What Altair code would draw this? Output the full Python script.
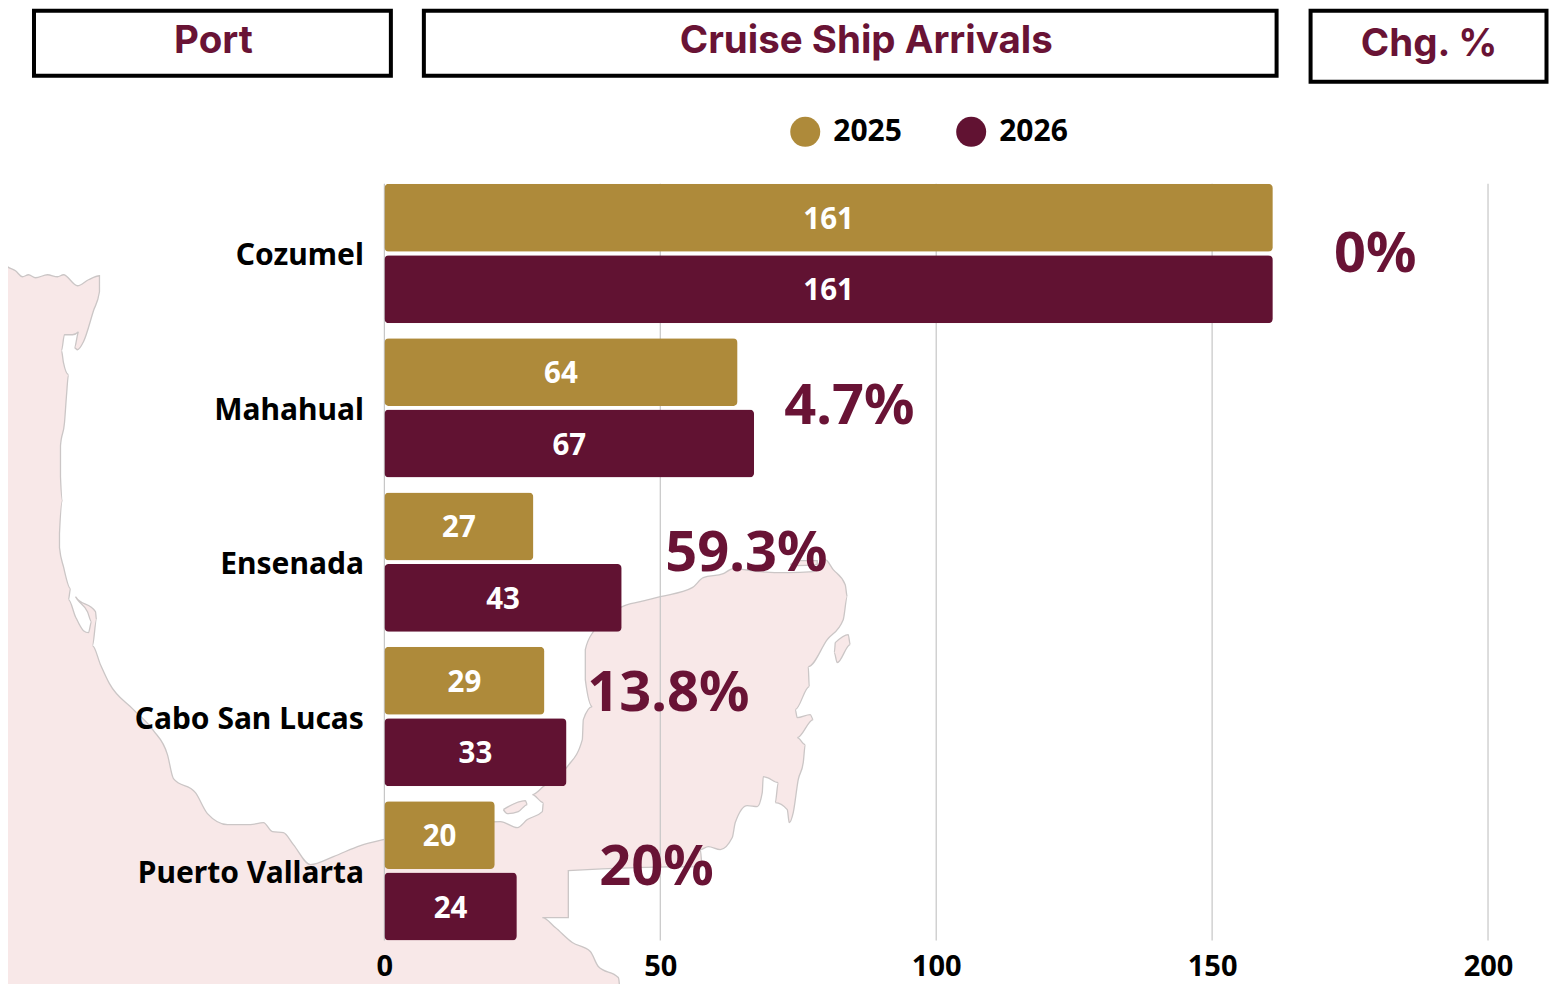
import altair as alt
import pandas as pd

ports = ["Cozumel", "Mahahual", "Ensenada", "Cabo San Lucas", "Puerto Vallarta"]
arrivals_2025 = [161, 64, 27, 29, 20]
arrivals_2026 = [161, 67, 43, 33, 24]
years = ["2025", "2026"]
x_ticks = [0, 50, 100, 150, 200]

pct_labels = ["0%", "4.7%", "59.3%", "13.8%", "20%"]
pct_left = [1334, 784, 665, 587, 599]
pct_mid = [255, 407, 554, 694, 868]

header_labels = ["Port", "Cruise Ship Arrivals", "Chg. %"]
header_x0 = [33.5, 423.5, 1310.5]
header_x1 = [390.5, 1276.5, 1546.5]
header_y0 = [11, 11, 11]
header_y1 = [76, 76, 82]
header_cx = [213, 866, 1429]
header_cy = [41, 41, 44]

# decorative map outline
coast_x = [-5, 0, 7, 15, 22, 28, 35, 47, 57, 63, 77, 88, 99, 99, 93, 83, 77, 74, 78, 72, 64, 61, 63, 68, 66, 64, 60, 60, 62, 59, 59, 63, 70, 68, 75, 83, 88, 91, 87, 77, 75, 95, 96, 92, 100, 109, 133, 153, 167, 173, 195, 207, 227, 250, 263, 272, 283, 293, 310, 333, 360, 383, 440, 500, 517, 527, 542, 543, 532, 543, 567, 582, 583, 592, 585, 585, 593, 622, 640, 660, 692, 703, 723, 733, 760, 787, 813, 825, 833, 845, 847, 843, 827, 808, 809, 795, 797, 810, 813, 797, 805, 803, 798, 793, 789, 787, 775, 778, 767, 763, 762, 757, 747, 735, 732, 720, 708, 700, 702, 568, 568, 542, 555, 572, 590, 598, 618, 619, 619, -5]
coast_y = [258, 260, 267, 271, 277, 275, 278, 275, 277, 275, 286, 280, 276, 292, 311, 342, 350, 348, 332, 335, 335, 351, 363, 375, 396, 423, 446, 477, 501, 534, 548, 567, 589, 600, 617, 631, 633, 622, 612, 600, 597, 612, 620, 646, 665, 684, 710, 731, 755, 779, 793, 814, 825, 825, 823, 832, 833, 845, 865, 857, 846, 840, 830, 822, 828, 820, 812, 803, 795, 787, 767, 740, 720, 707, 680, 650, 632, 607, 602, 597, 588, 578, 574, 569, 572, 573, 572, 560, 570, 585, 597, 620, 640, 667, 687, 710, 718, 715, 720, 738, 745, 763, 780, 813, 823, 810, 803, 783, 778, 777, 793, 807, 806, 823, 838, 850, 847, 850, 867, 871, 918, 918, 928, 943, 952, 967, 978, 984, 990, 990]
isle_a_x = [503, 525, 527, 518, 507, 503]
isle_a_y = [810, 801, 805, 812, 814, 810]
isle_b_x = [835, 848, 850, 837, 834, 835]
isle_b_y = [643, 635, 645, 663, 653, 643]
isle_c_x = [790, 800, 817, 817, 795, 790]
isle_c_y = [565, 561, 561, 565, 566, 565]

GOLD = "#AE8A3A"
MAROON = "#611232"
WINE = "#691335"
FONT = "Noto Sans"

bars_df = pd.DataFrame({
    "port": ports * 2,
    "year": [years[0]] * 5 + [years[1]] * 5,
    "value": arrivals_2025 + arrivals_2026,
})
pct_df = pd.DataFrame({"t": pct_labels, "px": pct_left, "py": pct_mid})
head_df = pd.DataFrame({"t": header_labels, "x0": header_x0, "x1": header_x1, "y0": header_y0,
                        "y1": header_y1, "cx": header_cx, "cy": header_cy})
rows = []
for name, xs, ys in [("coast", coast_x, coast_y), ("a", isle_a_x, isle_a_y),
                     ("b", isle_b_x, isle_b_y), ("c", isle_c_x, isle_c_y)]:
    for i, (a, b) in enumerate(zip(xs, ys)):
        rows.append({"poly": name, "i": i, "mx": a, "my": b})
map_df = pd.DataFrame(rows)

PX = alt.Scale(domain=[384, 1488], zero=False, nice=False)
PY = alt.Scale(domain=[941, 184], zero=False, nice=False)
VX = alt.Scale(domain=[0, 200], nice=False)
BY = alt.Scale(domain=ports, paddingInner=0.097, paddingOuter=0)
BO = alt.Scale(domain=years, paddingInner=0.049, paddingOuter=0)

x_axis = alt.Axis(
    values=x_ticks, grid=False, ticks=False, domain=False, title=None, format="d",
    labelFont=FONT, labelFontSize=29, labelFontWeight="bold", labelColor="#000000",
    labelPadding=12, labelFlush=False, zindex=1)
y_axis = alt.Axis(
    ticks=False, domain=False, title=None, grid=False,
    labelFont=FONT, labelFontSize=30, labelFontWeight="bold", labelColor="#000000",
    labelPadding=21, labelLimit=400, labelOffset=3, zindex=1)

land = alt.Chart(map_df).mark_line(fill="#F8E8E8", stroke="#CBC6C6", strokeWidth=1.3, interpolate="monotone").encode(
    x=alt.X("mx:Q", scale=PX, axis=None),
    y=alt.Y("my:Q", scale=PY, axis=None),
    detail="poly:N",
    order="i:Q",
)

grid = alt.Chart(pd.DataFrame({"v": x_ticks})).mark_rule(color="#C6C6C6", strokeWidth=1.2).encode(
    x=alt.X("v:Q", scale=VX, axis=None),
)

bars = alt.Chart(bars_df).mark_bar(cornerRadius=4.5).encode(
    x=alt.X("value:Q", scale=VX, axis=x_axis),
    y=alt.Y("port:N", scale=BY, sort=ports, axis=y_axis),
    yOffset=alt.YOffset("year:N", scale=BO),
    color=alt.Color("year:N", scale=alt.Scale(domain=years, range=[GOLD, MAROON]), legend=alt.Legend(
        orient="none", legendX=406, legendY=-67, direction="horizontal", title=None,
        symbolType="circle", symbolSize=900, symbolStrokeWidth=0, symbolOpacity=1,
        labelFont=FONT, labelFontSize=30, labelFontWeight="bold", labelColor="#000000",
        labelOffset=13, columnPadding=54)),
)
bar_text = alt.Chart(bars_df).transform_calculate(mid="datum.value / 2").mark_text(
    color="white", font=FONT, fontSize=29.5, fontWeight="bold", baseline="middle", dy=2).encode(
    x=alt.X("mid:Q", scale=VX, axis=x_axis),
    y=alt.Y("port:N", scale=BY, sort=ports, axis=y_axis),
    yOffset=alt.YOffset("year:N", scale=BO),
    text="value:Q",
)
bar_group = alt.layer(bars, bar_text)

pct = alt.Chart(pct_df).mark_text(color=WINE, font=FONT, fontSize=56, fontWeight="bold", align="left", baseline="middle").encode(
    x=alt.X("px:Q", scale=PX, axis=None),
    y=alt.Y("py:Q", scale=PY, axis=None),
    text="t:N",
)

boxes = alt.Chart(head_df).mark_rect(fill="white", stroke="black", strokeWidth=4).encode(
    x=alt.X("x0:Q", scale=PX, axis=None),
    x2="x1:Q",
    y=alt.Y("y0:Q", scale=PY, axis=None),
    y2="y1:Q",
)
head_text = alt.Chart(head_df).mark_text(color=WINE, font="Inter", fontSize=38.5, fontWeight="bold", baseline="middle").encode(
    x=alt.X("cx:Q", scale=PX, axis=None),
    y=alt.Y("cy:Q", scale=PY, axis=None),
    text="t:N",
)

chart = alt.layer(land, grid, bar_group, pct, boxes, head_text).resolve_scale(
    x="independent", y="independent"
).properties(
    width=1104, height=757,
    padding={"left": 376.5, "top": 175.7, "right": 64, "bottom": 43},
    autosize=alt.AutoSizeParams(type="none"),
    background="white",
).configure_view(stroke=None)

chart.save("out.html", embed_options={"renderer": "svg", "actions": False})
